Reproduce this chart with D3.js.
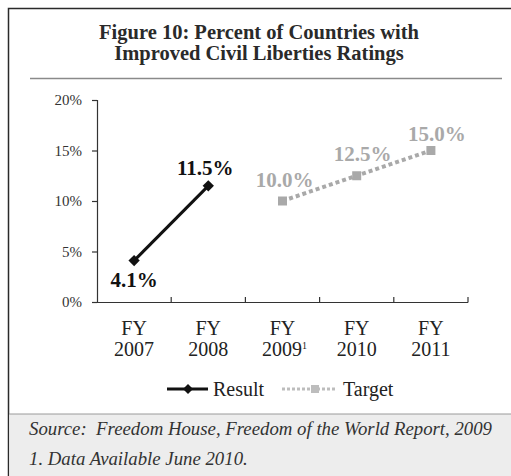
<!DOCTYPE html>
<html>
<head>
<meta charset="utf-8">
<script src="https://cdn.jsdelivr.net/npm/d3@7"></script>
<style>
  html, body { margin: 0; padding: 0; background: #fff; }
  svg, svg text { font-family: "Liberation Serif", "Times New Roman", serif; }
  svg { display: block; }
</style>
</head>
<body>
<svg id="chart" width="511" height="476"></svg>
<script>
// Fiscal years on the x axis
const years = ["2007", "2008", "2009", "2010", "2011"];
const yearNotes = ["", "", "1", "", ""];
// Actual results (percent of countries)
const resultYears = ["2007", "2008"];
const resultValues = [4.1, 11.5];
// Targets (percent of countries)
const targetYears = ["2009", "2010", "2011"];
const targetValues = [10.0, 12.5, 15.0];
// Y axis ticks
const yTicks = [0, 5, 10, 15, 20];

// Value label nudges [dx, dy] relative to each point
const resultLabelShift = [[0, 26], [-3, -11]];
const targetLabelShift = [[2, -14], [6, -15], [6, -10]];

const svg = d3.select("#chart");

// Outer frame and footer band
svg.append("rect").attr("x", 8.5).attr("y", 8.5).attr("width", 520).attr("height", 480)
  .attr("fill", "#fff").attr("stroke", "#2a2a2a").attr("stroke-width", 1.5);
svg.append("rect").attr("x", 9.25).attr("y", 414).attr("width", 510).attr("height", 70)
  .attr("fill", "#ededed");
svg.append("line").attr("x1", 9).attr("x2", 511).attr("y1", 414).attr("y2", 414)
  .attr("stroke", "#9a9a9a").attr("stroke-width", 1);

// Title
const title = svg.append("text").attr("text-anchor", "middle")
  .attr("font-weight", "bold").attr("font-size", 20.5).attr("fill", "#2a2a2a");
title.append("tspan").attr("x", 259).attr("y", 39).text("Figure 10: Percent of Countries with");
title.append("tspan").attr("x", 259).attr("y", 60).text("Improved Civil Liberties Ratings");
svg.append("line").attr("x1", 30).attr("x2", 502).attr("y1", 78.5).attr("y2", 78.5)
  .attr("stroke", "#8a8a8a").attr("stroke-width", 1.5);

// Scales
const x = d3.scaleBand().domain(years).range([97, 468]);
const y = d3.scaleLinear().domain([0, 20]).range([302, 100]);
const cx = d => x(d) + x.bandwidth() / 2;

// Y axis
const yAxis = svg.append("g").attr("transform", "translate(97,0)")
  .call(d3.axisLeft(y).tickValues(yTicks).tickFormat(d => d + "%").tickSize(5).tickPadding(10));
yAxis.attr("font-family", null);
yAxis.select(".domain").attr("stroke", "#333").attr("stroke-width", 1.2).attr("d", "M-5,100.5H0.5V302.5");
yAxis.selectAll(".tick line").attr("stroke", "#333").attr("stroke-width", 1.2);
yAxis.selectAll(".tick text").attr("font-size", 15).attr("fill", "#333");

// X axis with boundary ticks pointing up
const xg = svg.append("g");
xg.append("line").attr("x1", 97).attr("x2", 468).attr("y1", 302.5).attr("y2", 302.5)
  .attr("stroke", "#333").attr("stroke-width", 1.2);
const bounds = years.map(d => x(d)).concat([x.range()[1]]);
xg.selectAll("line.tk").data(bounds.slice(1)).join("line").attr("class", "tk")
  .attr("x1", d => d).attr("x2", d => d).attr("y1", 297).attr("y2", 302.5)
  .attr("stroke", "#333").attr("stroke-width", 1.2);

const labels = xg.selectAll("text.cat").data(years).join("text").attr("class", "cat")
  .attr("text-anchor", "middle").attr("font-size", 20).attr("fill", "#222");
labels.append("tspan").attr("x", d => cx(d)).attr("y", 335).text("FY");
labels.each(function(d, i) {
  d3.select(this).append("tspan")
    .attr("x", cx(d) + (yearNotes[i] ? 2 : 0)).attr("y", 356).text(d);
  if (yearNotes[i]) {
    d3.select(this).append("tspan").attr("dy", -7).attr("font-size", 10).text(yearNotes[i]);
  }
});

// Target series: dotted gray with square markers
const target = targetYears.map((d, i) => ({ year: d, v: targetValues[i], s: targetLabelShift[i] }));
const line = d3.line().x(d => cx(d.year)).y(d => y(d.v));
svg.append("path").datum(target).attr("d", line).attr("fill", "none")
  .attr("stroke", "#a9a9a9").attr("stroke-width", 4).attr("stroke-dasharray", "4,3");
svg.selectAll("rect.tm").data(target).join("rect").attr("class", "tm")
  .attr("x", d => cx(d.year) - 4.5).attr("y", d => y(d.v) - 4.5)
  .attr("width", 9).attr("height", 9).attr("fill", "#a9a9a9");
svg.selectAll("text.tl").data(target).join("text").attr("class", "tl")
  .attr("x", d => cx(d.year) + d.s[0]).attr("y", d => y(d.v) + d.s[1])
  .attr("text-anchor", "middle").attr("font-size", 21).attr("font-weight", "bold")
  .attr("fill", "#a9a9a9").text(d => d.v.toFixed(1) + "%");

// Result series: solid black with diamond markers
const result = resultYears.map((d, i) => ({ year: d, v: resultValues[i], s: resultLabelShift[i] }));
svg.append("path").datum(result).attr("d", line).attr("fill", "none")
  .attr("stroke", "#111").attr("stroke-width", 3);
svg.selectAll("path.rm").data(result).join("path").attr("class", "rm")
  .attr("transform", d => `translate(${cx(d.year)},${y(d.v)}) rotate(45)`)
  .attr("d", d3.symbol().type(d3.symbolSquare).size(64)).attr("fill", "#111");
svg.selectAll("text.rl").data(result).join("text").attr("class", "rl")
  .attr("x", d => cx(d.year) + d.s[0]).attr("y", d => y(d.v) + d.s[1])
  .attr("text-anchor", "middle").attr("font-size", 21).attr("font-weight", "bold")
  .attr("fill", "#111").text(d => d.v.toFixed(1) + "%");

// Legend
const lg = svg.append("g").attr("transform", "translate(0,389)");
lg.append("line").attr("x1", 167).attr("x2", 208).attr("stroke", "#111").attr("stroke-width", 3);
lg.append("path").attr("transform", "translate(188,0) rotate(45)")
  .attr("d", d3.symbol().type(d3.symbolSquare).size(50)).attr("fill", "#111");
lg.append("text").attr("x", 213).attr("y", 7).attr("font-size", 20).attr("fill", "#222").text("Result");
lg.append("line").attr("x1", 282).attr("x2", 336).attr("stroke", "#bdbdbd").attr("stroke-width", 3)
  .attr("stroke-dasharray", "3,2");
lg.append("rect").attr("x", 311).attr("y", -4).attr("width", 8).attr("height", 8).attr("fill", "#bdbdbd");
lg.append("text").attr("x", 343).attr("y", 7).attr("font-size", 20).attr("fill", "#222").text("Target");

// Footer notes
const foot = svg.append("g").attr("font-style", "italic").attr("font-size", 18.8).attr("fill", "#333");
foot.append("text").attr("x", 29).attr("y", 435).attr("xml:space", "preserve")
  .text("Source:  Freedom House, Freedom of the World Report, 2009");
foot.append("text").attr("x", 29).attr("y", 465).text("1. Data Available June 2010.");
</script>
</body>
</html>
